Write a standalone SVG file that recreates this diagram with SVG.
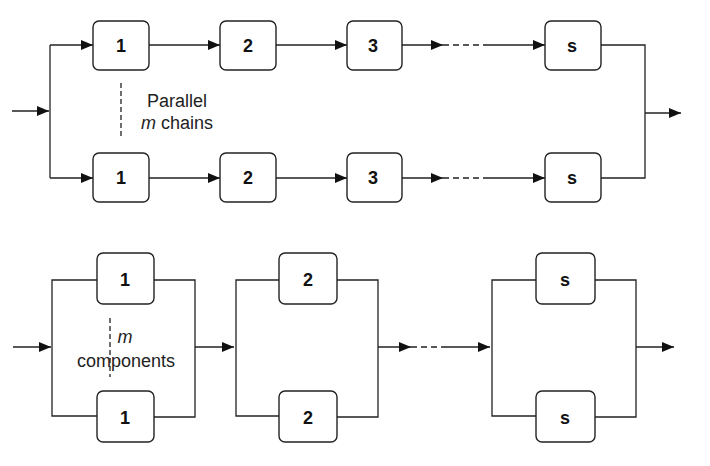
<svg xmlns="http://www.w3.org/2000/svg" width="710" height="466" viewBox="0 0 710 466">
<style>
.box{fill:#fff;stroke:#222;stroke-width:1.4}
.ln{fill:none;stroke:#222;stroke-width:1.3}
.dash{fill:none;stroke:#222;stroke-width:1.3;stroke-dasharray:6 4}
.num{font-family:"Liberation Sans",Arial,sans-serif;font-weight:bold;font-size:18px;fill:#111;text-anchor:middle}
.lbl{font-family:"Liberation Sans",Arial,sans-serif;font-size:18px;fill:#222;text-anchor:middle}
</style>
<defs>
<marker id="ah" markerUnits="userSpaceOnUse" markerWidth="12" markerHeight="10" refX="12" refY="5" orient="auto">
<path d="M0,0 L12,5 L0,10 z" fill="#111"/>
</marker>
</defs>
<g id="connectors">
<path class="ln" d="M12,111 H49" marker-end="url(#ah)"/>
<path class="ln" d="M50,45 V178"/>
<path class="ln" d="M50,45 H93" marker-end="url(#ah)"/>
<path class="ln" d="M50,178 H93" marker-end="url(#ah)"/>
<path class="ln" d="M149,45 H220" marker-end="url(#ah)"/>
<path class="ln" d="M276,45 H347" marker-end="url(#ah)"/>
<path class="ln" d="M402,45 H443" marker-end="url(#ah)"/>
<path class="dash" d="M443,45 H487"/>
<path class="ln" d="M487,45 H545" marker-end="url(#ah)"/>
<path class="ln" d="M149,178 H220" marker-end="url(#ah)"/>
<path class="ln" d="M276,178 H347" marker-end="url(#ah)"/>
<path class="ln" d="M402,178 H443" marker-end="url(#ah)"/>
<path class="dash" d="M443,178 H487"/>
<path class="ln" d="M487,178 H545" marker-end="url(#ah)"/>
<path class="ln" d="M601,45 H645 V178 H601"/>
<path class="ln" d="M645,113 H681" marker-end="url(#ah)"/>
<path class="dash" d="M121,83 V139" style="stroke-dasharray:5 3"/>
<path class="ln" d="M13,347 H51" marker-end="url(#ah)"/>
<path class="ln" d="M97,280 H52 V416 H97"/>
<path class="ln" d="M154,280 H195 V417 H154"/>
<path class="ln" d="M195,347 H234" marker-end="url(#ah)"/>
<path class="ln" d="M279,280 H236 V416 H279"/>
<path class="ln" d="M337,280 H378 V417 H337"/>
<path class="ln" d="M378,347 H411" marker-end="url(#ah)"/>
<path class="dash" d="M411,347 H447"/>
<path class="ln" d="M447,347 H490" marker-end="url(#ah)"/>
<path class="ln" d="M536,280 H492 V416 H536"/>
<path class="ln" d="M595,280 H636 V417 H595"/>
<path class="ln" d="M636,347 H674" marker-end="url(#ah)"/>
<path class="dash" d="M110,318 V377" style="stroke-dasharray:5 3"/>
</g>
<g id="t1a"><rect class="box" x="93" y="21" width="56" height="49" rx="6"/><text class="num" x="121" y="52">1</text></g>
<g id="t2a"><rect class="box" x="220" y="21" width="56" height="49" rx="6"/><text class="num" x="248" y="52">2</text></g>
<g id="t3a"><rect class="box" x="347" y="21" width="55" height="49" rx="6"/><text class="num" x="373" y="52">3</text></g>
<g id="tsa"><rect class="box" x="545" y="21" width="56" height="49" rx="6"/><text class="num" x="572" y="52">s</text></g>
<g id="t1b"><rect class="box" x="93" y="153" width="56" height="49" rx="6"/><text class="num" x="121" y="184">1</text></g>
<g id="t2b"><rect class="box" x="220" y="153" width="56" height="49" rx="6"/><text class="num" x="248" y="184">2</text></g>
<g id="t3b"><rect class="box" x="347" y="153" width="55" height="49" rx="6"/><text class="num" x="373" y="184">3</text></g>
<g id="tsb"><rect class="box" x="545" y="153" width="56" height="49" rx="6"/><text class="num" x="572" y="184">s</text></g>
<g id="label-top"><text class="lbl" x="177" y="107">Parallel</text><text class="lbl" x="177" y="129"><tspan font-style="italic">m</tspan> chains</text></g>
<g id="b1a"><rect class="box" x="97" y="253" width="57" height="51" rx="6"/><text class="num" x="125" y="286">1</text></g>
<g id="b1b"><rect class="box" x="97" y="391" width="57" height="51" rx="6"/><text class="num" x="125" y="424">1</text></g>
<g id="b2a"><rect class="box" x="279" y="253" width="58" height="51" rx="6"/><text class="num" x="308" y="286">2</text></g>
<g id="b2b"><rect class="box" x="279" y="391" width="58" height="51" rx="6"/><text class="num" x="308" y="424">2</text></g>
<g id="bsa"><rect class="box" x="536" y="253" width="59" height="51" rx="6"/><text class="num" x="565" y="286">s</text></g>
<g id="bsb"><rect class="box" x="536" y="391" width="59" height="51" rx="6"/><text class="num" x="565" y="424">s</text></g>
<g id="label-bottom"><text class="lbl" x="125" y="343" font-style="italic">m</text><text class="lbl" x="126" y="367" font-size="19">components</text></g>
</svg>
